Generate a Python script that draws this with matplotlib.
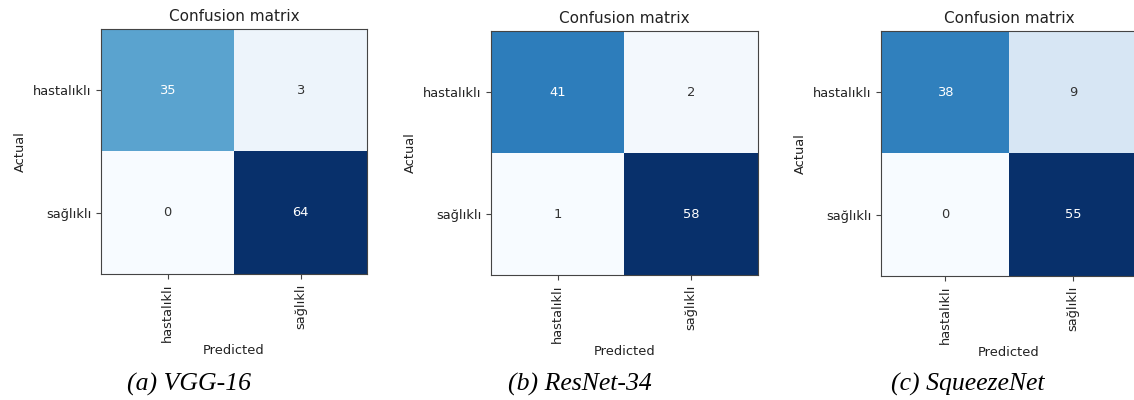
import matplotlib
matplotlib.use("Agg")
import matplotlib.pyplot as plt
import numpy as np

classes = ["hastalıklı", "sağlıklı"]
vgg16 = [[35, 3], [0, 64]]
resnet34 = [[41, 2], [1, 58]]
squeezenet = [[38, 9], [0, 55]]
captions = ["(a) VGG-16", "(b) ResNet-34", "(c) SqueezeNet"]
matrices = [vgg16, resnet34, squeezenet]

W, H = 1134, 400
fig = plt.figure(figsize=(W / 100, H / 100), dpi=100)

# axes boxes in pixels: left, right, top, bottom
boxes = [(101, 367, 29, 274), (491, 758, 31, 275), (881, 1137, 31, 276)]
cap_x = [189, 580, 968]

for cm, (l, r, t, b), cap, cx in zip(matrices, boxes, captions, cap_x):
    cm = np.array(cm)
    ax = fig.add_axes([l / W, 1 - b / H, (r - l) / W, (b - t) / H])
    ax.imshow(cm, cmap="Blues", aspect="auto", interpolation="nearest")
    ax.set_title("Confusion matrix", fontsize=11, color="#222222")
    ax.set_xticks(range(len(classes)))
    ax.set_yticks(range(len(classes)))
    ax.set_xticklabels(classes, rotation=90, fontsize=9.4, color="#222222")
    ax.set_yticklabels(classes, fontsize=9.4, color="#222222")
    ax.set_xlabel("Predicted", fontsize=9.4, color="#222222", labelpad=1)
    ax.set_ylabel("Actual", fontsize=9.4, color="#222222")
    thresh = cm.max() / 2
    for i in range(cm.shape[0]):
        for j in range(cm.shape[1]):
            ax.text(j, i, str(cm[i, j]), ha="center", va="center", fontsize=9.4,
                    color="white" if cm[i, j] > thresh else "#333333")
    for s in ax.spines.values():
        s.set_color("#444444")
    ax.tick_params(colors="#444444", labelcolor="#222222")
    fig.text(cx / W, 1 - 384 / H, cap, ha="center", va="center",
             fontsize=18.5, family="Liberation Serif", style="italic")

fig.savefig("out.png", dpi=100)
